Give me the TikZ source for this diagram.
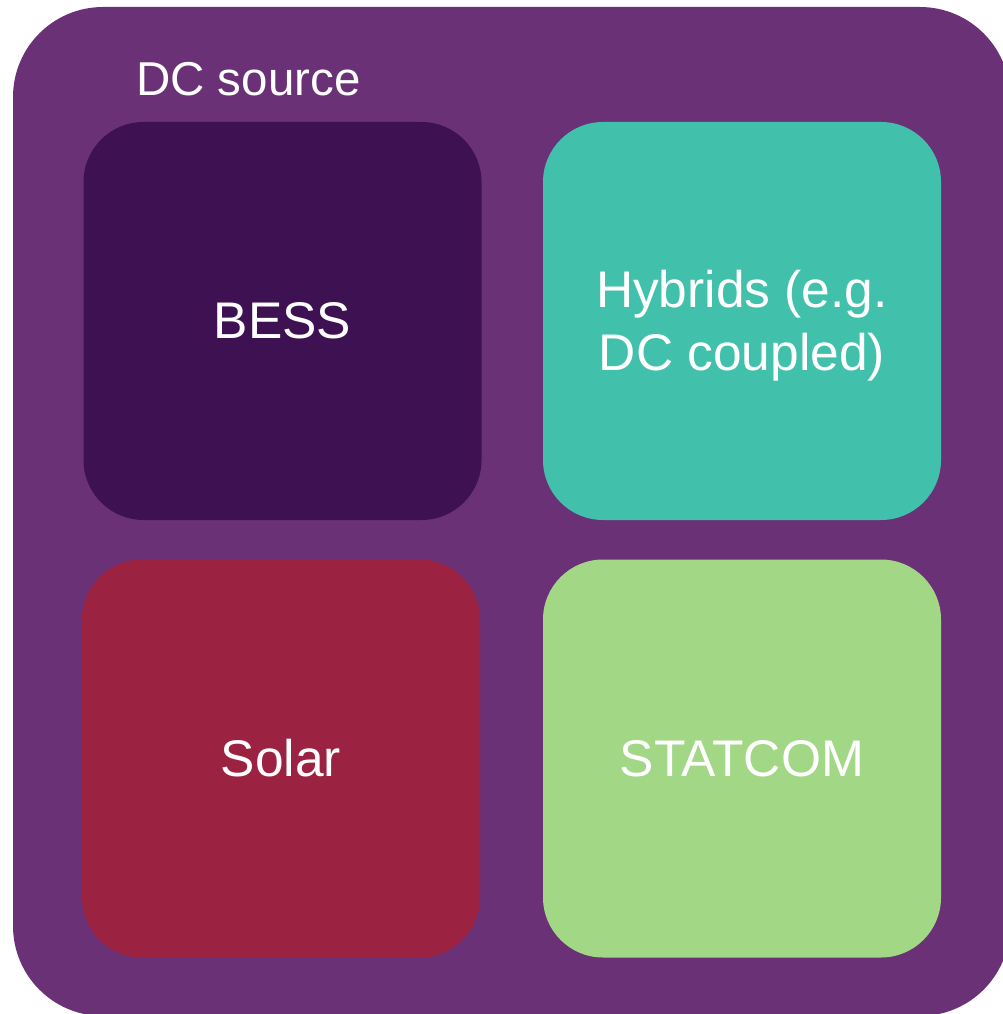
\documentclass[tikz,border=0pt]{standalone}
\usepackage{fontspec}
\setmainfont{Liberation Sans}
\definecolor{outerc}{HTML}{6B3176}
\definecolor{bessc}{HTML}{3D1152}
\definecolor{hybc}{HTML}{41C1AC}
\definecolor{solarc}{HTML}{9C2242}
\definecolor{statc}{HTML}{A2D786}
\begin{document}
\begin{tikzpicture}[x=1pt,y=-1pt,
  tile/.style={rectangle, rounded corners=60pt, minimum width=398pt, minimum height=398pt,
    inner sep=0pt, text=white, align=center, font=\fontsize{51.5}{63}\selectfont},
  lbl/.style={text=white, inner sep=0pt, font=\fontsize{47.5}{55}\selectfont}]
\useasboundingbox (0,0) rectangle (1002,1014);
\fill[outerc, rounded corners=90pt] (13,7) rectangle (1010,1016);
\node[lbl, anchor=base west] (dc) at (136,96) {DC source};
\node[tile, fill=bessc] (bess) at (282.5,321) {BESS};
\node[tile, fill=hybc] (hyb) at (742,321) {};
\node[text=white, align=center, inner sep=0pt, font=\fontsize{51.5}{63}\selectfont] (hybtext) at (742,326) {Hybrids (e.g.\\DC coupled)};
\node[tile, fill=solarc] (solar) at (281,758.5) {Solar};
\node[tile, fill=statc] (stat) at (742,758.5) {STATCOM};
\end{tikzpicture}
\end{document}
